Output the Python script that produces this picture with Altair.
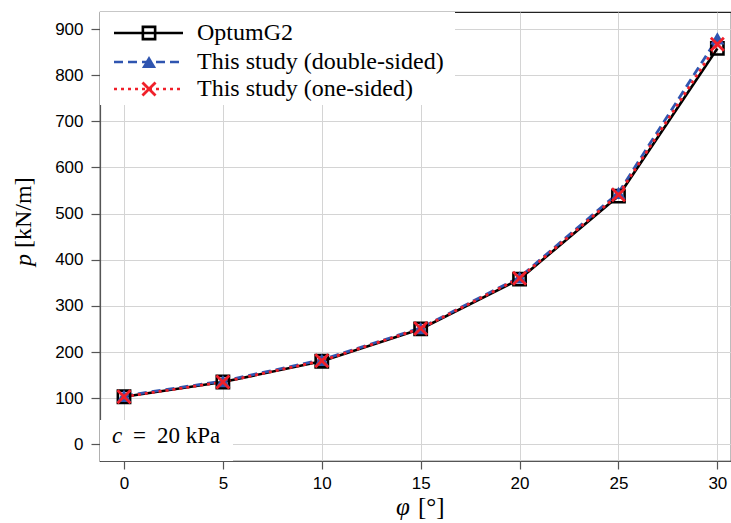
import altair as alt
import pandas as pd

# ---- data ----
phi = [0, 5, 10, 15, 20, 25, 30]
p_optum = [103, 135, 180, 250, 358, 538, 858]
p_double = [105, 137, 183, 252, 362, 545, 880]
p_one = [103, 135, 181, 251, 360, 541, 867]

series_names = ["OptumG2", "This study (double-sided)", "This study (one-sided)"]
x_ticks = [0, 5, 10, 15, 20, 25, 30]
y_ticks = [0, 100, 200, 300, 400, 500, 600, 700, 800, 900]

rows = []
for name, vals in zip(series_names, [p_optum, p_double, p_one]):
    for f, v in zip(phi, vals):
        rows.append({"phi": f, "p": v, "series": name})
df = pd.DataFrame(rows)

BLACK = "#000000"
BLUE = "#2f55b0"
RED = "#f0202a"
SERIF = "Liberation Serif"
SANS = "Liberation Sans"
XPATH = "M-1,-1L1,1M-1,1L1,-1"

xs = alt.Scale(domain=[-1.213, 30.69], nice=False, zero=False)
ys = alt.Scale(domain=[-36.2, 936.9], nice=False, zero=False)

xenc = alt.X("phi:Q", scale=xs, axis=alt.Axis(values=x_ticks, title=None, format="d"))
yenc = alt.Y("p:Q", scale=ys, axis=alt.Axis(values=y_ticks, title=None, format="d"))

base = alt.Chart(df)

def sel(name):
    return base.transform_filter(alt.datum.series == name)

SQ = dict(shape="square", size=150, filled=False, color=BLACK, strokeWidth=2.6, opacity=1)
TRI = dict(shape="triangle-up", size=200, filled=True, color=BLUE, opacity=1)
XX = dict(shape=XPATH, size=170, filled=False, color=RED, strokeWidth=2.8, opacity=1)

line_optum = sel(series_names[0]).mark_line(color=BLACK, strokeWidth=2.6).encode(x=xenc, y=yenc)
line_double = sel(series_names[1]).mark_line(color=BLUE, strokeWidth=2.8, strokeDash=[9, 5]).encode(x=xenc, y=yenc)
line_one = sel(series_names[2]).mark_line(color=RED, strokeWidth=2.8, strokeDash=[3, 4]).encode(x=xenc, y=yenc)

pt_optum = sel(series_names[0]).mark_point(**SQ).encode(x=xenc, y=yenc)
pt_double = sel(series_names[1]).mark_point(**TRI).encode(x=xenc, y=yenc)
pt_one = sel(series_names[2]).mark_point(**XX).encode(x=xenc, y=yenc)

one = pd.DataFrame({"k": [0]})

def box(x0, x1, y0, y1):
    return alt.Chart(one).mark_rect(fill="white", stroke=None).encode(
        x=alt.value(x0), x2=alt.value(x1), y=alt.value(y0), y2=alt.value(y1))

def txt(s, x, y, size, italic=False, align="left", angle=0, font=SERIF, baseline="middle"):
    kw = dict(text=s, font=font, fontSize=size, color="black", align=align, baseline=baseline)
    if italic:
        kw["fontStyle"] = "italic"
    if angle:
        kw["angle"] = angle
    return alt.Chart(one).mark_text(**kw).encode(x=alt.value(x), y=alt.value(y))

# legend
legend_layers = [box(0, 355, 0, 93)]
leg_y = [21, 50, 77]
leg_styles = [
    (BLACK, None, SQ),
    (BLUE, [9, 5], TRI),
    (RED, [3, 4], XX),
]
for name, yy, (col, dash, mk) in zip(series_names, leg_y, leg_styles):
    rkw = dict(color=col, strokeWidth=2.6)
    if dash:
        rkw["strokeDash"] = dash
    legend_layers.append(alt.Chart(one).mark_rule(**rkw).encode(
        x=alt.value(14), x2=alt.value(83), y=alt.value(yy)))
    legend_layers.append(alt.Chart(one).mark_point(**mk).encode(x=alt.value(49), y=alt.value(yy)))
    legend_layers.append(txt(name, 97, yy, 24))

# annotation c = 20 kPa
annot = [
    box(0, 133, 408, 449),
    txt("c", 12, 431, 23, italic=True, baseline="alphabetic"),
    txt("=", 33, 431, 23, baseline="alphabetic"),
    txt("20 kPa", 57, 431, 23, baseline="alphabetic"),
]

# axis titles
titles = [
    txt("p", -76, 254, 24, italic=True, angle=270),
    txt("[kN/m]", -76, 236, 24, angle=270),
    txt("φ", 303, 503, 25, italic=True, align="center", baseline="alphabetic"),
    txt("[°]", 318, 503, 25, baseline="alphabetic"),
]

chart = alt.layer(
    line_optum, line_double, line_one,
    pt_optum, pt_double, pt_one,
    *legend_layers, *annot, *titles,
).properties(
    width=631, height=449,
    padding={"left": 100, "top": 12, "right": 0, "bottom": 62},
    autosize=alt.AutoSizeParams(type="none"),
    background="white",
).configure_view(
    stroke="#222", strokeWidth=1.2,
).configure_axis(
    grid=True, gridColor="#d4d4d4", gridWidth=1,
    domainColor="#555", domainWidth=1.2,
    tickColor="#555", tickWidth=1.2,
    labelFont=SANS, labelFontSize=17, labelColor="black",
)
chart = chart.configure_axisX(tickSize=8, labelPadding=6).configure_axisY(tickSize=9, labelPadding=8)

chart.save("out.html", embed_options={"renderer": "svg", "actions": False})
